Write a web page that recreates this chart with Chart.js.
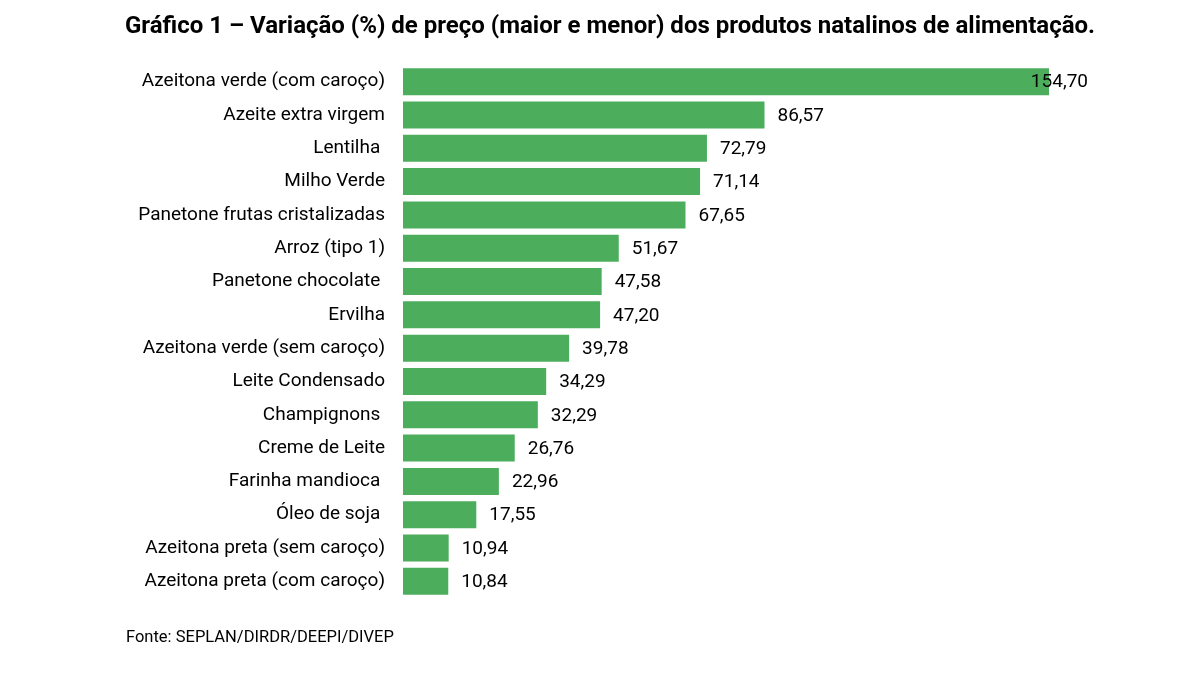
<!DOCTYPE html>
<html>
<head>
<meta charset="utf-8">
<script src="https://cdn.jsdelivr.net/npm/chart.js@4"></script>
<style>
  html,body{margin:0;padding:0;background:#fff;}
  #wrap{position:relative;width:1182px;height:679px;overflow:hidden;}
  #title{position:absolute;left:0;top:11px;width:1220px;text-align:center;font-family:Roboto,sans-serif;font-weight:bold;font-size:24px;color:#000;white-space:nowrap;}
  #source{position:absolute;left:126px;top:627px;font-family:Roboto,sans-serif;font-size:16.5px;color:#000;white-space:nowrap;}
  canvas{position:absolute;left:0;top:0;}
</style>
</head>
<body>
<div id="wrap">
  <canvas id="c" width="1182" height="679"></canvas>
  <div id="title">Gráfico 1 – Variação (%) de preço (maior e menor) dos produtos natalinos de alimentação.</div>
  <div id="source">Fonte: SEPLAN/DIRDR/DEEPI/DIVEP</div>
</div>
<script>
const categories = [
  "Azeitona verde (com caroço)",
  "Azeite extra virgem",
  "Lentilha ",
  "Milho Verde",
  "Panetone frutas cristalizadas",
  "Arroz (tipo 1)",
  "Panetone chocolate ",
  "Ervilha",
  "Azeitona verde (sem caroço)",
  "Leite Condensado",
  "Champignons ",
  "Creme de Leite",
  "Farinha mandioca ",
  "Óleo de soja ",
  "Azeitona preta (sem caroço)",
  "Azeitona preta (com caroço)"
];
const variation = [154.70, 86.57, 72.79, 71.14, 67.65, 51.67, 47.58, 47.20, 39.78, 34.29, 32.29, 26.76, 22.96, 17.55, 10.94, 10.84];

const FONT = 'Roboto, sans-serif';
const fmt = v => v.toFixed(2).replace('.', ',');

const valueLabels = {
  id: 'valueLabels',
  afterDatasetsDraw(chart) {
    const ctx = chart.ctx;
    const meta = chart.getDatasetMeta(0);
    ctx.save();
    ctx.font = '19px ' + FONT;
    ctx.fillStyle = '#000';
    ctx.textBaseline = 'middle';
    ctx.textAlign = 'left';
    meta.data.forEach((bar, i) => {
      const txt = fmt(variation[i]);
      const w = ctx.measureText(txt).width;
      let x = bar.x + 13;
      const limit = 1088;
      if (x + w > limit) x = limit - w;
      ctx.fillText(txt, x, bar.y + 1);
    });
    ctx.restore();
  }
};

new Chart(document.getElementById('c'), {
  type: 'bar',
  data: {
    labels: categories,
    datasets: [{
      data: variation,
      backgroundColor: '#4cae5c',
      borderWidth: 0,
      barPercentage: 0.81,
      categoryPercentage: 1.0
    }]
  },
  options: {
    indexAxis: 'y',
    responsive: false,
    animation: false,
    devicePixelRatio: 1,
    layout: { padding: { left: 0, right: 133, top: 65, bottom: 81 } },
    plugins: { legend: { display: false }, tooltip: { enabled: false }, title: { display: false } },
    scales: {
      x: { display: false, min: 0, max: 154.7 },
      y: {
        grid: { display: false, drawTicks: false },
        border: { display: false },
        ticks: { color: '#000', font: { family: FONT, size: 19 }, padding: 18, autoSkip: false },
        afterFit(scale) { scale.width = 403; }
      }
    }
  },
  plugins: [valueLabels]
});
</script>
</body>
</html>
